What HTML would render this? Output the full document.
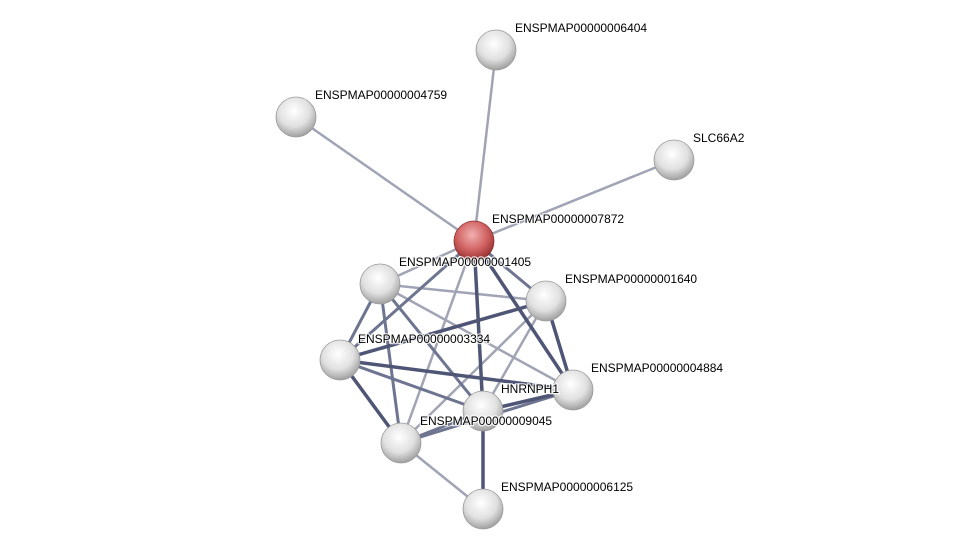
<!DOCTYPE html>
<html><head><style>
body{margin:0;background:#fff;}
svg text{font-family:"Liberation Sans",sans-serif;font-size:12px;fill:#000;stroke:#fff;stroke-width:2.5px;paint-order:stroke;stroke-opacity:0.8;}
</style></head><body>
<svg width="976" height="554" viewBox="0 0 976 554">
<defs>
<radialGradient id="g" cx="45%" cy="35%" r="65%">
<stop offset="0" stop-color="#ffffff"/><stop offset="0.6" stop-color="#e0e0e0"/><stop offset="1" stop-color="#a0a0a0"/>
</radialGradient>
<radialGradient id="r" cx="45%" cy="35%" r="65%">
<stop offset="0" stop-color="#f2b0b0"/><stop offset="0.6" stop-color="#d06060"/><stop offset="1" stop-color="#963030"/>
</radialGradient>
</defs>
<g stroke-linecap="round">
<g stroke="#a0a4b4" stroke-width="2.5">
<line x1="474" y1="241" x2="496" y2="50"/>
<line x1="474" y1="241" x2="296" y2="117"/>
<line x1="474" y1="241" x2="674" y2="160"/>
<line x1="483" y1="509" x2="401" y2="443"/>
<line x1="380" y1="284" x2="546" y2="301"/>
<line x1="380" y1="284" x2="573" y2="390"/>
<line x1="474" y1="241" x2="380" y2="284"/>
<line x1="546" y1="301" x2="401" y2="443"/>
<line x1="546" y1="301" x2="483" y2="411"/>
<line x1="474" y1="241" x2="401" y2="443"/>
</g>
<g stroke="#6e7590" stroke-width="3">
<line x1="474" y1="241" x2="340" y2="360"/>
<line x1="474" y1="241" x2="546" y2="301"/>
<line x1="380" y1="284" x2="340" y2="360"/>
<line x1="380" y1="284" x2="401" y2="443"/>
<line x1="380" y1="284" x2="483" y2="411"/>
<line x1="340" y1="360" x2="483" y2="411"/>
<line x1="401" y1="443" x2="573" y2="390"/>
<line x1="401" y1="443" x2="483" y2="411"/>
</g>
<g stroke="#4f5675" stroke-width="3.5">
<line x1="474" y1="241" x2="483" y2="411"/>
<line x1="474" y1="241" x2="573" y2="390"/>
<line x1="340" y1="360" x2="546" y2="301"/>
<line x1="340" y1="360" x2="573" y2="390"/>
<line x1="340" y1="360" x2="401" y2="443"/>
<line x1="546" y1="301" x2="573" y2="390"/>
<line x1="483" y1="411" x2="573" y2="390"/>
<line x1="483" y1="411" x2="483" y2="509"/>
</g>
</g>
<g stroke="#9a9a9a" stroke-width="0.8">
<circle cx="496" cy="50" r="20" fill="url(#g)"/>
<circle cx="296" cy="117" r="20" fill="url(#g)"/>
<circle cx="674" cy="160" r="20" fill="url(#g)"/>
<circle cx="474" cy="241" r="20" fill="url(#r)" stroke="#8a3030"/>
<circle cx="380" cy="284" r="20" fill="url(#g)"/>
<circle cx="546" cy="301" r="20" fill="url(#g)"/>
<circle cx="340" cy="360" r="20" fill="url(#g)"/>
<circle cx="573" cy="390" r="20" fill="url(#g)"/>
<circle cx="483" cy="411" r="20" fill="url(#g)"/>
<circle cx="401" cy="443" r="20" fill="url(#g)"/>
<circle cx="483" cy="509" r="20" fill="url(#g)"/>
</g>
<g>
<text x="515" y="32">ENSPMAP00000006404</text>
<text x="315" y="99">ENSPMAP00000004759</text>
<text x="693" y="142">SLC66A2</text>
<text x="492" y="223">ENSPMAP00000007872</text>
<text x="399" y="266">ENSPMAP00000001405</text>
<text x="565" y="283">ENSPMAP00000001640</text>
<text x="358" y="343">ENSPMAP00000003334</text>
<text x="591" y="372">ENSPMAP00000004884</text>
<text x="501" y="393">HNRNPH1</text>
<text x="420" y="425">ENSPMAP00000009045</text>
<text x="501" y="491">ENSPMAP00000006125</text>
</g>
</svg>
</body></html>
